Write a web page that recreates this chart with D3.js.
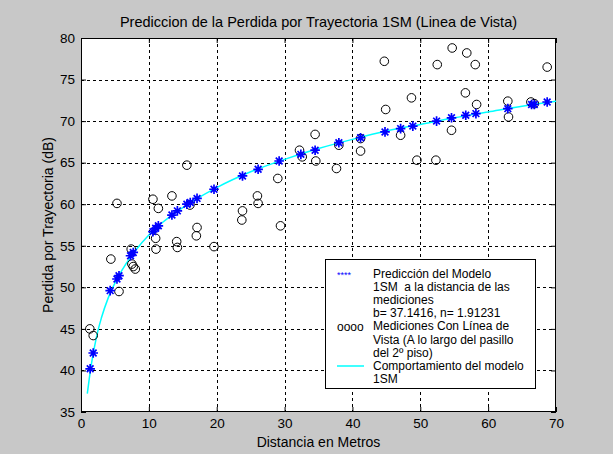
<!DOCTYPE html>
<html><head><meta charset="utf-8">
<script src="https://cdn.jsdelivr.net/npm/d3@7"></script>
<style>
body{margin:0;background:#c8c8c8;}
svg text{font-family:"Liberation Sans",Arial,sans-serif;}
</style></head>
<body><svg id="c" width="613" height="454"></svg>
<script>
// Measured path loss (circles)
const measDist = [1.3,1.8,4.4,5.3,5.6,7.4,7.5,7.7,8.0,10.6,11.4,11.0,11.05,13.4,14.1,14.2,15.6,16.05,17.1,17.0,19.6,23.8,23.7,26.0,26.1,29.0,29.4,32.2,32.6,34.5,34.6,37.65,38.0,41.2,41.2,44.7,44.9,47.1,48.7,49.5,52.3,52.5,54.6,54.7,56.65,56.85,58.1,58.3,62.9,63.0,66.3,66.8,68.7];
const measLoss = [45.0,44.2,53.4,60.1,49.5,54.6,52.8,52.5,52.2,60.6,59.5,55.9,54.6,61.0,55.5,54.8,64.7,59.9,57.2,56.2,54.9,59.2,58.1,61.0,60.1,63.1,57.4,66.5,65.7,68.4,65.2,64.3,67.1,67.9,66.4,77.2,71.4,68.3,72.8,65.3,65.3,76.8,68.9,78.8,73.4,78.2,76.8,72.0,72.4,70.5,72.3,72.1,76.5];
// Model prediction at measured distances (stars)
const predDist = [1.35,1.8,4.3,5.3,5.6,7.3,7.7,10.6,11.0,11.4,13.4,14.2,15.6,16.1,17.1,19.6,23.8,26.1,29.2,32.4,34.5,38.0,41.2,44.8,47.1,48.9,52.4,54.6,56.7,58.2,62.9,66.4,66.8,68.7];
const predLoss = [40.2,42.1,49.6,51.0,51.4,53.8,54.2,56.7,57.1,57.4,58.7,59.2,60.0,60.2,60.7,61.8,63.4,64.2,65.2,66.0,66.5,67.4,68.0,68.7,69.1,69.4,70.0,70.4,70.7,70.9,71.5,72.0,72.0,72.3];
// Model curve (cyan)
const curveDist = [0.93,1.2,1.5,2,2.5,3,4,5,6,8,10,12,15,20,25,30,35,40,45,50,55,60,65,70];
const curveLoss = [37.2,38.9,40.6,42.9,44.8,46.3,48.7,50.5,52.0,54.4,56.3,57.8,59.6,62.0,63.9,65.4,66.7,67.8,68.8,69.6,70.4,71.1,71.8,72.4];

const xTicks = [0,10,20,30,40,50,60,70];
const yTicks = [35,40,45,50,55,60,65,70,75,80];
const legendLines = ["Predicción del Modelo","1SM  a la distancia de las","mediciones","b= 37.1416, n= 1.91231","Mediciones Con Línea de","Vista (A lo largo del pasillo","del 2º piso)","Comportamiento del modelo","1SM"];

const svg = d3.select("#c");
svg.append("rect").attr("width",613).attr("height",454).attr("fill","#c8c8c8");
const L=81,R=556,T=38,B=412;
const x = d3.scaleLinear().domain([0,70]).range([L,R]);
const y = d3.scaleLinear().domain([35,80]).range([B,T]);

svg.append("rect").attr("x",L).attr("y",T).attr("width",R-L).attr("height",B-T).attr("fill","#fff");

// grid
const g = svg.append("g").attr("stroke","#000").attr("stroke-width",1).attr("stroke-dasharray","3,3");
xTicks.slice(1,-1).forEach(t=>g.append("line").attr("x1",Math.round(x(t))+0.5).attr("x2",Math.round(x(t))+0.5).attr("y1",T).attr("y2",B));
yTicks.slice(1,-1).forEach(t=>g.append("line").attr("y1",Math.round(y(t))+0.5).attr("y2",Math.round(y(t))+0.5).attr("x1",L).attr("x2",R));

// axes
function styleAxis(sel){sel.select(".domain").remove();sel.selectAll("text").attr("font-size",13.5).attr("fill","#000");sel.selectAll("line").attr("stroke","#000");}
svg.append("g").attr("transform",`translate(0,${B})`).call(d3.axisBottom(x).tickValues(xTicks).tickSizeInner(-5).tickSizeOuter(0).tickPadding(6)).call(styleAxis);
svg.append("g").attr("transform",`translate(0,${T})`).call(d3.axisTop(x).tickValues(xTicks).tickSizeInner(-5).tickSizeOuter(0).tickFormat("")).call(styleAxis);
svg.append("g").attr("transform",`translate(${L},0)`).call(d3.axisLeft(y).tickValues(yTicks).tickSizeInner(-5).tickSizeOuter(0).tickPadding(6)).call(styleAxis);
svg.append("g").attr("transform",`translate(${R},0)`).call(d3.axisRight(y).tickValues(yTicks).tickSizeInner(-5).tickSizeOuter(0).tickFormat("")).call(styleAxis);
svg.append("rect").attr("x",L+0.5).attr("y",T+0.5).attr("width",R-L-1).attr("height",B-T-1).attr("fill","none").attr("stroke","#000");

// curve
const curve = curveDist.map((d,i)=>[d,curveLoss[i]]);
svg.append("path").datum(curve).attr("fill","none").attr("stroke","#00ffff").attr("stroke-width",1.5)
  .attr("d",d3.line().x(d=>x(d[0])).y(d=>y(d[1])).curve(d3.curveMonotoneX));

// circles
svg.append("g").selectAll("circle").data(measDist.map((d,i)=>[d,measLoss[i]])).join("circle")
  .attr("cx",d=>x(d[0])).attr("cy",d=>y(d[1])).attr("r",4.3).attr("fill","none").attr("stroke","#000").attr("stroke-width",1);

// stars
const starPath = s => `M${-s},0H${s}M0,${-s}V${s}M${-s*0.7},${-s*0.7}L${s*0.7},${s*0.7}M${-s*0.7},${s*0.7}L${s*0.7},${-s*0.7}`;
svg.append("g").selectAll("path").data(predDist.map((d,i)=>[d,predLoss[i]])).join("path")
  .attr("transform",d=>`translate(${x(d[0])},${y(d[1])})`).attr("d",starPath(4.8))
  .attr("stroke","#0000ff").attr("stroke-width",1.7).attr("fill","none");

// title & labels
svg.append("text").attr("x",(L+R)/2).attr("y",27).attr("text-anchor","middle").attr("font-size",14.5).text("Prediccion de la Perdida por Trayectoria 1SM (Linea de Vista)");
svg.append("text").attr("x",(L+R)/2).attr("y",447).attr("text-anchor","middle").attr("font-size",14).text("Distancia en Metros");
svg.append("text").attr("transform",`translate(53,${(T+B)/2}) rotate(-90)`).attr("text-anchor","middle").attr("font-size",14).text("Perdida por Trayectoria (dB)");

// legend
const lg = svg.append("g");
lg.append("rect").attr("x",325.5).attr("y",259.5).attr("width",210).attr("height",129).attr("fill","#fff").attr("stroke","#000");
legendLines.forEach((t,i)=>lg.append("text").attr("x",373).attr("y",278+i*13.1).attr("font-size",12).attr("xml:space","preserve").style("white-space","pre").text(t));
lg.append("text").attr("x",337).attr("y",278).attr("font-size",9).attr("fill","#0000ff").text("****");
lg.append("text").attr("x",337).attr("y",330.5).attr("font-size",12).text("oooo");
lg.append("line").attr("x1",337).attr("x2",364).attr("y1",366).attr("y2",366).attr("stroke","#00ffff").attr("stroke-width",1.5);
</script></body></html>
